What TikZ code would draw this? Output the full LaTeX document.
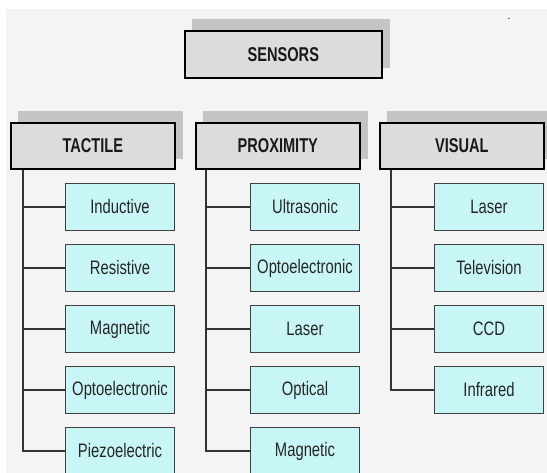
\documentclass[tikz,border=0pt]{standalone}
\usepackage{fontspec}
\setmainfont{Liberation Sans}
\newfontfamily\childfont[FakeStretch=0.76]{Liberation Sans}
\newfontfamily\headfont[FakeStretch=0.73]{Liberation Sans Bold}
\usetikzlibrary{backgrounds}
\definecolor{bgc}{HTML}{F4F4F4}
\definecolor{headc}{HTML}{DCDCDC}
\definecolor{shadc}{HTML}{C4C4C4}
\definecolor{childc}{HTML}{C8F5F5}
\definecolor{childline}{HTML}{404040}
\definecolor{linec}{HTML}{333333}
\tikzset{
  headbox/.style={draw=black, line width=1.6pt, fill=headc, anchor=north west,
    minimum width=164pt, minimum height=46pt, inner sep=0pt,
    font=\headfont\fontsize{20pt}{22pt}\selectfont, text=black!90},
  childbox/.style={draw=childline, line width=1pt, fill=childc, anchor=north west,
    minimum width=109pt, minimum height=47pt, inner sep=0pt,
    font=\childfont\fontsize{19.5pt}{21pt}\selectfont, text=black!85},
  conn/.style={draw=linec, line width=1.2pt},
  shadowbox/.style={fill=shadc}
}
\begin{document}
\begin{tikzpicture}[x=1pt,y=-1pt]
\useasboundingbox (0,0) rectangle (547,473);
% headers
\node[headbox, minimum width=197pt, minimum height=47pt] (sens) at (184,30) {SENSORS};
\node[headbox] (tact) at (10,122) {TACTILE};
\node[headbox] (prox) at (195,122) {PROXIMITY};
\node[headbox] (vis) at (379,122) {VISUAL};
% tactile children
\node[childbox] (t1) at (65,183) {Inductive};
\node[childbox] (t2) at (65,244) {Resistive};
\node[childbox] (t3) at (65,305) {Magnetic};
\node[childbox] (t4) at (65,366) {Optoelectronic};
\node[childbox] (t5) at (65,427) {Piezoelectric};
% proximity children
\node[childbox] (p1) at (250,183) {Ultrasonic};
\node[childbox] (p2) at (250,244) {Optoelectronic};
\node[childbox] (p3) at (250,305) {Laser};
\node[childbox] (p4) at (250,366) {Optical};
\node[childbox] (p5) at (250,427) {Magnetic};
% visual children
\node[childbox] (v1) at (434,183) {Laser};
\node[childbox] (v2) at (434,244) {Television};
\node[childbox] (v3) at (434,305) {CCD};
\node[childbox] (v4) at (434,366) {Infrared};
% stray dot
\node[inner sep=0pt, font=\fontsize{10pt}{10pt}\selectfont] (dot) at (509,19) {.};
% trunks
\coordinate (tt) at ([xshift=13pt]tact.south west);
\coordinate (pt) at ([xshift=11pt]prox.south west);
\coordinate (vt) at ([xshift=12pt]vis.south west);
\begin{scope}[on background layer]
  \fill[bgc] (6,9) rectangle (547,473);
  \foreach \n in {sens,tact,prox,vis}{
    \fill[shadowbox] ([shift={(7.5pt,11pt)}]\n.south west) rectangle ([shift={(7.5pt,11pt)}]\n.north east);
  }
  \draw[conn] (tt) |- (t5.west);
  \foreach \c in {t1,t2,t3,t4}{ \draw[conn] (tt |- \c.west) -- (\c.west); }
  \draw[conn] (pt) |- (p5.west);
  \foreach \c in {p1,p2,p3,p4}{ \draw[conn] (pt |- \c.west) -- (\c.west); }
  \draw[conn] (vt) |- (v4.west);
  \foreach \c in {v1,v2,v3}{ \draw[conn] (vt |- \c.west) -- (\c.west); }
\end{scope}
\end{tikzpicture}
\end{document}
